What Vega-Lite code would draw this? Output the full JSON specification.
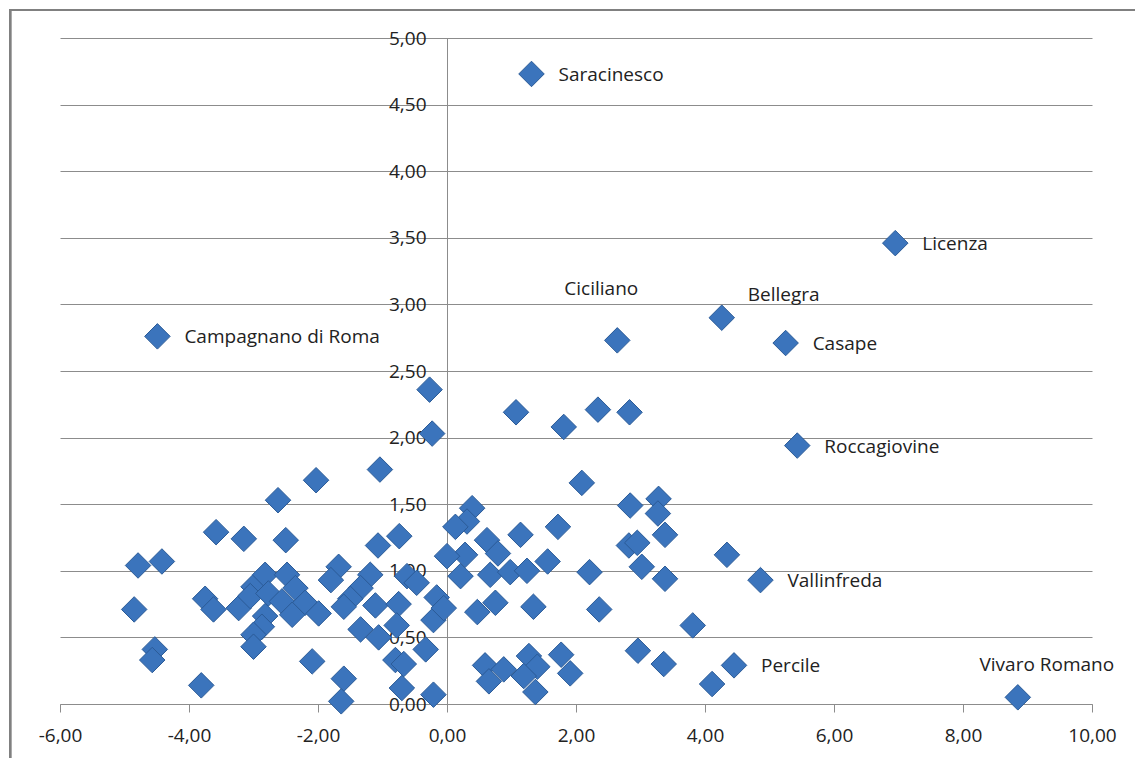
{
  "$schema": "https://vega.github.io/schema/vega-lite/v6.json",
  "autosize": {"type": "none"},
  "padding": {"left": 60, "top": 38, "right": 43, "bottom": 54},
  "width": 1032,
  "height": 666,
  "background": "white",
  "config": {
    "view": {"stroke": null},
    "locale": {"number": {"decimal": ",", "thousands": ".", "grouping": [3], "currency": ["", " €"], "minus": "-"}},
    "font": "Open Sans",
    "axis": {"labelFont": "Open Sans", "labelFontSize": 19, "labelColor": "#222222", "domainColor": "#8c8c8c", "tickColor": "#8c8c8c", "gridColor": "#8c8c8c", "gridOpacity": 1, "title": null}
  },
  "data": {"values": [
    {"x": 1.31, "y": 4.73, "name": "Saracinesco"},
    {"x": 6.95, "y": 3.46, "name": "Licenza"},
    {"x": 2.64, "y": 2.73, "name": "Ciciliano"},
    {"x": 4.26, "y": 2.90, "name": "Bellegra"},
    {"x": 5.25, "y": 2.71, "name": "Casape"},
    {"x": -4.49, "y": 2.76, "name": "Campagnano di Roma"},
    {"x": 5.43, "y": 1.94, "name": "Roccagiovine"},
    {"x": 4.86, "y": 0.93, "name": "Vallinfreda"},
    {"x": 4.45, "y": 0.29, "name": "Percile"},
    {"x": 8.85, "y": 0.05, "name": "Vivaro Romano"},
    {"x": -0.27, "y": 2.36, "name": ""},
    {"x": -0.23, "y": 2.03, "name": ""},
    {"x": 1.07, "y": 2.19, "name": ""},
    {"x": 1.81, "y": 2.08, "name": ""},
    {"x": 2.34, "y": 2.21, "name": ""},
    {"x": 2.83, "y": 2.19, "name": ""},
    {"x": 2.09, "y": 1.66, "name": ""},
    {"x": -2.62, "y": 1.53, "name": ""},
    {"x": -2.03, "y": 1.68, "name": ""},
    {"x": -1.04, "y": 1.76, "name": ""},
    {"x": -3.58, "y": 1.29, "name": ""},
    {"x": -3.15, "y": 1.24, "name": ""},
    {"x": -2.50, "y": 1.23, "name": ""},
    {"x": -1.07, "y": 1.19, "name": ""},
    {"x": -0.74, "y": 1.26, "name": ""},
    {"x": -4.79, "y": 1.04, "name": ""},
    {"x": -4.42, "y": 1.07, "name": ""},
    {"x": -4.85, "y": 0.71, "name": ""},
    {"x": -3.75, "y": 0.79, "name": ""},
    {"x": -3.62, "y": 0.71, "name": ""},
    {"x": -3.23, "y": 0.72, "name": ""},
    {"x": -3.00, "y": 0.88, "name": ""},
    {"x": -2.82, "y": 0.97, "name": ""},
    {"x": -2.48, "y": 0.97, "name": ""},
    {"x": -3.05, "y": 0.81, "name": ""},
    {"x": -2.77, "y": 0.83, "name": ""},
    {"x": -2.35, "y": 0.87, "name": ""},
    {"x": -2.56, "y": 0.77, "name": ""},
    {"x": -2.20, "y": 0.76, "name": ""},
    {"x": -2.40, "y": 0.67, "name": ""},
    {"x": -1.99, "y": 0.68, "name": ""},
    {"x": -2.82, "y": 0.66, "name": ""},
    {"x": -2.87, "y": 0.58, "name": ""},
    {"x": -3.00, "y": 0.52, "name": ""},
    {"x": -3.00, "y": 0.43, "name": ""},
    {"x": -4.53, "y": 0.41, "name": ""},
    {"x": -4.57, "y": 0.33, "name": ""},
    {"x": -3.81, "y": 0.14, "name": ""},
    {"x": -2.09, "y": 0.32, "name": ""},
    {"x": -1.60, "y": 0.19, "name": ""},
    {"x": -1.64, "y": 0.02, "name": ""},
    {"x": -1.68, "y": 1.03, "name": ""},
    {"x": -1.80, "y": 0.93, "name": ""},
    {"x": -1.19, "y": 0.97, "name": ""},
    {"x": -1.34, "y": 0.87, "name": ""},
    {"x": -1.50, "y": 0.79, "name": ""},
    {"x": -1.60, "y": 0.73, "name": ""},
    {"x": -1.11, "y": 0.74, "name": ""},
    {"x": -0.75, "y": 0.75, "name": ""},
    {"x": -0.62, "y": 0.96, "name": ""},
    {"x": -0.47, "y": 0.91, "name": ""},
    {"x": -0.16, "y": 0.80, "name": ""},
    {"x": -0.21, "y": 0.63, "name": ""},
    {"x": -0.05, "y": 0.72, "name": ""},
    {"x": -1.34, "y": 0.56, "name": ""},
    {"x": -1.06, "y": 0.50, "name": ""},
    {"x": -0.78, "y": 0.59, "name": ""},
    {"x": -0.80, "y": 0.33, "name": ""},
    {"x": -0.67, "y": 0.30, "name": ""},
    {"x": -0.33, "y": 0.41, "name": ""},
    {"x": -0.70, "y": 0.12, "name": ""},
    {"x": -0.21, "y": 0.07, "name": ""},
    {"x": 0.39, "y": 1.47, "name": ""},
    {"x": 0.31, "y": 1.37, "name": ""},
    {"x": 0.13, "y": 1.33, "name": ""},
    {"x": 0.62, "y": 1.23, "name": ""},
    {"x": 1.14, "y": 1.27, "name": ""},
    {"x": 1.72, "y": 1.33, "name": ""},
    {"x": 0.79, "y": 1.13, "name": ""},
    {"x": 0.28, "y": 1.12, "name": ""},
    {"x": 0.00, "y": 1.11, "name": ""},
    {"x": 1.56, "y": 1.07, "name": ""},
    {"x": 0.21, "y": 0.96, "name": ""},
    {"x": 0.67, "y": 0.97, "name": ""},
    {"x": 0.98, "y": 0.99, "name": ""},
    {"x": 1.24, "y": 1.00, "name": ""},
    {"x": 2.21, "y": 0.99, "name": ""},
    {"x": 0.75, "y": 0.76, "name": ""},
    {"x": 0.47, "y": 0.69, "name": ""},
    {"x": 1.34, "y": 0.73, "name": ""},
    {"x": 2.36, "y": 0.71, "name": ""},
    {"x": 0.59, "y": 0.29, "name": ""},
    {"x": 0.65, "y": 0.17, "name": ""},
    {"x": 0.88, "y": 0.26, "name": ""},
    {"x": 1.27, "y": 0.36, "name": ""},
    {"x": 1.40, "y": 0.28, "name": ""},
    {"x": 1.19, "y": 0.21, "name": ""},
    {"x": 1.37, "y": 0.09, "name": ""},
    {"x": 1.77, "y": 0.37, "name": ""},
    {"x": 1.91, "y": 0.23, "name": ""},
    {"x": 2.84, "y": 1.49, "name": ""},
    {"x": 3.28, "y": 1.54, "name": ""},
    {"x": 3.27, "y": 1.43, "name": ""},
    {"x": 3.38, "y": 1.27, "name": ""},
    {"x": 2.82, "y": 1.19, "name": ""},
    {"x": 2.95, "y": 1.21, "name": ""},
    {"x": 3.02, "y": 1.03, "name": ""},
    {"x": 3.38, "y": 0.94, "name": ""},
    {"x": 4.34, "y": 1.12, "name": ""},
    {"x": 3.81, "y": 0.59, "name": ""},
    {"x": 2.96, "y": 0.40, "name": ""},
    {"x": 3.36, "y": 0.30, "name": ""},
    {"x": 4.11, "y": 0.15, "name": ""}
  ]},
  "encoding": {
    "x": {"field": "x", "type": "quantitative", "scale": {"domain": [-6, 10], "nice": false, "zero": false},
      "axis": {"values": [-6, -4, -2, 0, 2, 4, 6, 8, 10], "format": ".2f", "grid": false, "tickSize": 8, "labelPadding": 14, "labelFlush": false}},
    "y": {"field": "y", "type": "quantitative", "scale": {"domain": [0, 5], "nice": false},
      "axis": {"values": [0, 0.5, 1, 1.5, 2, 2.5, 3, 3.5, 4, 4.5, 5], "format": ".2f", "grid": true, "ticks": false, "offset": -387, "labelPadding": 21, "labelFlush": false}}
  },
  "layer": [
    {
      "mark": {"type": "rect", "filled": false, "stroke": "#808080", "strokeWidth": 2, "clip": false},
      "encoding": {
        "x": {"datum": -6.775, "type": "quantitative"},
        "x2": {"datum": 10.9},
        "y": {"datum": 5.21, "type": "quantitative"},
        "y2": {"datum": -0.45}
      }
    },
    {
      "mark": {"type": "point", "shape": "diamond", "size": 650, "filled": true, "fill": "#3B74BC", "stroke": "#2B5B97", "strokeWidth": 1, "opacity": 1}
    },
    {
      "transform": [{"filter": "indexof(['Saracinesco','Licenza','Campagnano di Roma','Casape','Roccagiovine','Vallinfreda','Percile'], datum.name) >= 0"}],
      "mark": {"type": "text", "align": "left", "baseline": "middle", "dx": 27, "dy": 1, "font": "Open Sans", "fontSize": 19, "color": "#222222"},
      "encoding": {"text": {"field": "name"}}
    },
    {
      "transform": [{"filter": "datum.name === 'Ciciliano'"}],
      "mark": {"type": "text", "align": "center", "baseline": "middle", "dx": -16, "dy": -51, "font": "Open Sans", "fontSize": 19, "color": "#222222"},
      "encoding": {"text": {"field": "name"}}
    },
    {
      "transform": [{"filter": "datum.name === 'Bellegra'"}],
      "mark": {"type": "text", "align": "left", "baseline": "middle", "dx": 26, "dy": -23, "font": "Open Sans", "fontSize": 19, "color": "#222222"},
      "encoding": {"text": {"field": "name"}}
    },
    {
      "transform": [{"filter": "datum.name === 'Vivaro Romano'"}],
      "mark": {"type": "text", "align": "center", "baseline": "middle", "dx": 29, "dy": -32, "font": "Open Sans", "fontSize": 19, "color": "#222222"},
      "encoding": {"text": {"field": "name"}}
    }
  ]
}
